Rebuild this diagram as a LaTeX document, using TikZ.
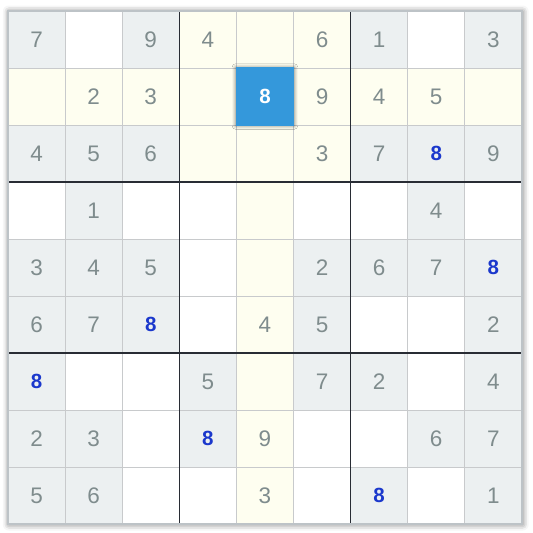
\documentclass[tikz,border=0pt]{standalone}
\usepackage{fontspec}
\setmainfont{Liberation Sans}
\usetikzlibrary{shadows.blur}

\definecolor{cellgray}{RGB}{236,240,241}
\definecolor{hlyellow}{RGB}{254,254,240}
\definecolor{digitgray}{RGB}{127,140,141}
\definecolor{pickblue}{RGB}{52,152,219}
\definecolor{markblue}{RGB}{27,56,204}
\definecolor{thinline}{RGB}{200,202,204}
\definecolor{boxline}{RGB}{40,44,52}
\definecolor{rimgray}{RGB}{189,195,199}

\tikzset{
	cell/.style={minimum width=57.1pt, minimum height=57pt, inner sep=0pt, outer sep=0pt,
		text=digitgray, font=\fontsize{22.5}{24}\selectfont},
	given/.style={cell, fill=cellgray},
	seen/.style={cell},
	eight/.style={given, text=markblue, font=\fontsize{20.5}{22}\selectfont\bfseries},
	picked/.style={cell, minimum width=58.6pt, minimum height=58.5pt, fill=pickblue, text=white,
		font=\fontsize{20.5}{22}\selectfont\bfseries,
		blur shadow={shadow xshift=0pt, shadow yshift=0pt, shadow blur radius=3.5pt, shadow opacity=50}},
	gridline/.style={draw=thinline, line width=1pt},
	boxrule/.style={draw=boxline, line width=1.3pt}
}

\begin{document}
\begin{tikzpicture}[x=57.1pt, y=-57pt]
	\useasboundingbox (-0.1401, -0.193) rectangle (9.1944, 9.1404);

	% board and highlights
	\fill[white, blur shadow={shadow xshift=0.8pt, shadow yshift=-0.5pt, shadow blur radius=6pt, shadow opacity=55}] (0, 0) rectangle (9, 9);
	\fill[hlyellow] (0, 1) rectangle (9, 2);
	\fill[hlyellow] (4, 0) rectangle (5, 9);
	\fill[hlyellow] (3, 0) rectangle (6, 3);

	% row 1
	\node[given] (c11) at (0.5, 0.5) {7};
	\node[given] (c13) at (2.5, 0.5) {9};
	\node[seen]  (c14) at (3.5, 0.5) {4};
	\node[seen]  (c16) at (5.5, 0.5) {6};
	\node[given] (c17) at (6.5, 0.5) {1};
	\node[given] (c19) at (8.5, 0.5) {3};
	% row 2
	\node[seen]  (c22) at (1.5, 1.5) {2};
	\node[seen]  (c23) at (2.5, 1.5) {3};
	\node[seen]  (c26) at (5.5, 1.5) {9};
	\node[seen]  (c27) at (6.5, 1.5) {4};
	\node[seen]  (c28) at (7.5, 1.5) {5};
	% row 3
	\node[given] (c31) at (0.5, 2.5) {4};
	\node[given] (c32) at (1.5, 2.5) {5};
	\node[given] (c33) at (2.5, 2.5) {6};
	\node[seen]  (c36) at (5.5, 2.5) {3};
	\node[given] (c37) at (6.5, 2.5) {7};
	\node[eight] (c38) at (7.5, 2.5) {8};
	\node[given] (c39) at (8.5, 2.5) {9};
	% row 4
	\node[given] (c42) at (1.5, 3.5) {1};
	\node[given] (c48) at (7.5, 3.5) {4};
	% row 5
	\node[given] (c51) at (0.5, 4.5) {3};
	\node[given] (c52) at (1.5, 4.5) {4};
	\node[given] (c53) at (2.5, 4.5) {5};
	\node[given] (c56) at (5.5, 4.5) {2};
	\node[given] (c57) at (6.5, 4.5) {6};
	\node[given] (c58) at (7.5, 4.5) {7};
	\node[eight] (c59) at (8.5, 4.5) {8};
	% row 6
	\node[given] (c61) at (0.5, 5.5) {6};
	\node[given] (c62) at (1.5, 5.5) {7};
	\node[eight] (c63) at (2.5, 5.5) {8};
	\node[seen]  (c65) at (4.5, 5.5) {4};
	\node[given] (c66) at (5.5, 5.5) {5};
	\node[given] (c69) at (8.5, 5.5) {2};
	% row 7
	\node[eight] (c71) at (0.5, 6.5) {8};
	\node[given] (c74) at (3.5, 6.5) {5};
	\node[given] (c76) at (5.5, 6.5) {7};
	\node[given] (c77) at (6.5, 6.5) {2};
	\node[given] (c79) at (8.5, 6.5) {4};
	% row 8
	\node[given] (c81) at (0.5, 7.5) {2};
	\node[given] (c82) at (1.5, 7.5) {3};
	\node[eight] (c84) at (3.5, 7.5) {8};
	\node[seen]  (c85) at (4.5, 7.5) {9};
	\node[given] (c88) at (7.5, 7.5) {6};
	\node[given] (c89) at (8.5, 7.5) {7};
	% row 9
	\node[given] (c91) at (0.5, 8.5) {5};
	\node[given] (c92) at (1.5, 8.5) {6};
	\node[seen]  (c95) at (4.5, 8.5) {3};
	\node[eight] (c97) at (6.5, 8.5) {8};
	\node[given] (c99) at (8.5, 8.5) {1};

	% thin lines
	\path[gridline] (1, 0) -- (1, 9);
	\path[gridline] (2, 0) -- (2, 9);
	\path[gridline] (4, 0) -- (4, 9);
	\path[gridline] (5, 0) -- (5, 9);
	\path[gridline] (7, 0) -- (7, 9);
	\path[gridline] (8, 0) -- (8, 9);
	\path[gridline] (0, 1) -- (9, 1);
	\path[gridline] (0, 2) -- (9, 2);
	\path[gridline] (0, 4) -- (9, 4);
	\path[gridline] (0, 5) -- (9, 5);
	\path[gridline] (0, 7) -- (9, 7);
	\path[gridline] (0, 8) -- (9, 8);

	% box lines
	\path[boxrule] (3, 0) -- (3, 9);
	\path[boxrule] (6, 0) -- (6, 9);
	\path[boxrule] (0, 3) -- (9, 3);
	\path[boxrule] (0, 6) -- (9, 6);
	\path[draw=rimgray, line width=1.2pt] (0, 0) rectangle (9, 9);

	% selected cell
	\node[picked] (c25) at (4.5, 1.5) {8};

\end{tikzpicture}
\end{document}
